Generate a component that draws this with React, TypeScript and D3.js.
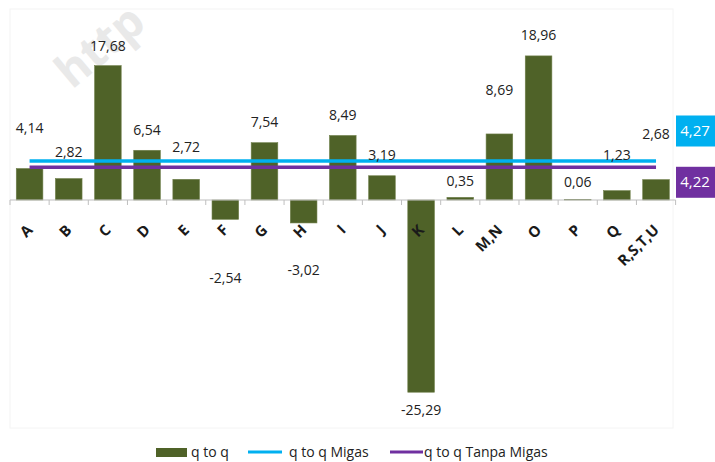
import { useRef, useEffect } from 'react';
import * as d3 from 'd3';

// sectors and their q-to-q growth (%)
const categories = ['A', 'B', 'C', 'D', 'E', 'F', 'G', 'H', 'I', 'J', 'K', 'L', 'M,N', 'O', 'P', 'Q', 'R,S,T,U'];
const qtoq = [4.14, 2.82, 17.68, 6.54, 2.72, -2.54, 7.54, -3.02, 8.49, 3.19, -25.29, 0.35, 8.69, 18.96, 0.06, 1.23, 2.68];
const migas = 4.27;
const tanpaMigas = 4.22;
const legendLabels = ['q to q', 'q to q Migas', 'q to q Tanpa Migas'];

// hand-placed label distances from bar end (like the Excel original)
const labelDy = [41, 27, 20, 20, 32, 59, 21, 47, 20, 21, 18, 16, 44, 21, 18, 36, 46];

const W = 715;
const H = 462;
const GREEN = '#4f6228';
const CYAN = '#00b0f0';
const PURPLE = '#7030a0';
const FONT = '"Open Sans", "Noto Sans", sans-serif';

const fmt = (v: number) => v.toFixed(2).replace('.', ',');

export default function App() {
  const svgRef = useRef<SVGSVGElement>(null);

  useEffect(() => {
    if (!svgRef.current) return;
    const svg = d3.select(svgRef.current);
    svg.selectAll('*').remove();

    // watermark
    svg.append('text')
      .attr('transform', 'translate(72,90) rotate(-40)')
      .attr('font-family', FONT)
      .attr('font-weight', 700)
      .attr('font-size', 46)
      .attr('fill', '#e9e9e9')
      .text('http');

    // faint chart frame
    svg.append('rect')
      .attr('x', 10).attr('y', 9)
      .attr('width', 663).attr('height', 419)
      .attr('fill', 'none')
      .attr('stroke', '#f4f4f4');

    const x = d3.scaleBand<string>()
      .domain(categories)
      .range([10, 675.6])
      .paddingInner(0.32)
      .paddingOuter(0.16);

    const y = d3.scaleLinear().domain([-30, 25]).range([428, 10]);
    // secondary axis for the two reference lines
    const y2 = d3.scaleLinear().domain([3.96, 4.27]).range([y(0), 161]);

    const step = x.step();
    const gap = (step - x.bandwidth()) / 2;

    // bars
    svg.append('g')
      .selectAll('rect')
      .data(qtoq)
      .join('rect')
      .attr('x', (_, i) => x(categories[i])!)
      .attr('y', (d) => y(Math.max(0, d)))
      .attr('width', x.bandwidth())
      .attr('height', (d) => Math.abs(y(d) - y(0)))
      .attr('fill', GREEN)
      .attr('stroke', '#6f7f4a')
      .attr('stroke-width', 0.6);

    // axis
    const axis = svg.append('g');
    axis.append('line')
      .attr('x1', 10).attr('x2', 675.6)
      .attr('y1', y(0)).attr('y2', y(0))
      .attr('stroke', '#bfbfbf');
    axis.selectAll('line.tick')
      .data([...categories, null])
      .join('line')
      .attr('class', 'tick')
      .attr('x1', (d) => (d ? x(d)! - gap : 10 + step * categories.length))
      .attr('x2', (d) => (d ? x(d)! - gap : 10 + step * categories.length))
      .attr('y1', y(0)).attr('y2', y(0) + 5)
      .attr('stroke', '#bfbfbf');

    // category labels
    svg.append('g')
      .selectAll('text')
      .data(categories)
      .join('text')
      .attr('transform', (d) => `translate(${x(d)! + x.bandwidth() / 2 + 4},${y(0) + 31}) rotate(-45)`)
      .attr('text-anchor', 'end')
      .attr('font-family', FONT)
      .attr('font-weight', 700)
      .attr('font-size', 15)
      .attr('fill', '#1a1a1a')
      .text((d) => d);

    // reference lines
    const x0 = x(categories[0])! + x.bandwidth() / 2;
    const x1 = x(categories[categories.length - 1])! + x.bandwidth() / 2;
    [[migas, CYAN], [tanpaMigas, PURPLE]].forEach(([v, c]) => {
      svg.append('line')
        .attr('x1', x0).attr('x2', x1)
        .attr('y1', y2(v as number)).attr('y2', y2(v as number))
        .attr('stroke', c as string)
        .attr('stroke-width', 3.5);
    });

    // value labels
    svg.append('g')
      .selectAll('text')
      .data(qtoq)
      .join('text')
      .attr('x', (_, i) => x(categories[i])! + x.bandwidth() / 2)
      .attr('y', (d, i) => y(d) + (d >= 0 ? -labelDy[i] : labelDy[i]) + 5)
      .attr('text-anchor', 'middle')
      .attr('font-family', FONT)
      .attr('font-size', 14)
      .attr('fill', '#222')
      .text((d) => fmt(d));

    // line value boxes on the right
    [[migas, CYAN, -30], [tanpaMigas, PURPLE, 15]].forEach(([v, c, dy]) => {
      const cy = y2(v as number) + (dy as number);
      svg.append('rect')
        .attr('x', 676).attr('y', cy - 15.5)
        .attr('width', 42).attr('height', 31)
        .attr('fill', c as string);
      svg.append('text')
        .attr('x', 695).attr('y', cy + 5)
        .attr('text-anchor', 'middle')
        .attr('font-family', FONT)
        .attr('font-size', 15)
        .attr('fill', '#fff')
        .text(fmt(v as number));
    });

    // legend
    const lg = svg.append('g').attr('font-family', FONT).attr('font-size', 14).attr('fill', '#222');
    lg.append('rect').attr('x', 156).attr('y', 448).attr('width', 31).attr('height', 9).attr('fill', GREEN);
    lg.append('text').attr('x', 191).attr('y', 457).text(legendLabels[0]);
    lg.append('line').attr('x1', 248).attr('x2', 282).attr('y1', 452).attr('y2', 452).attr('stroke', CYAN).attr('stroke-width', 3);
    lg.append('text').attr('x', 289).attr('y', 457).text(legendLabels[1]);
    lg.append('line').attr('x1', 390).attr('x2', 423).attr('y1', 452).attr('y2', 452).attr('stroke', PURPLE).attr('stroke-width', 3);
    lg.append('text').attr('x', 424).attr('y', 457).text(legendLabels[2]);
  }, []);

  return (
    <div style={{ position: 'fixed', left: 0, top: 0, width: W, height: H, background: '#fff' }}>
      <svg ref={svgRef} width={W} height={H} style={{ display: 'block' }} />
    </div>
  );
}
